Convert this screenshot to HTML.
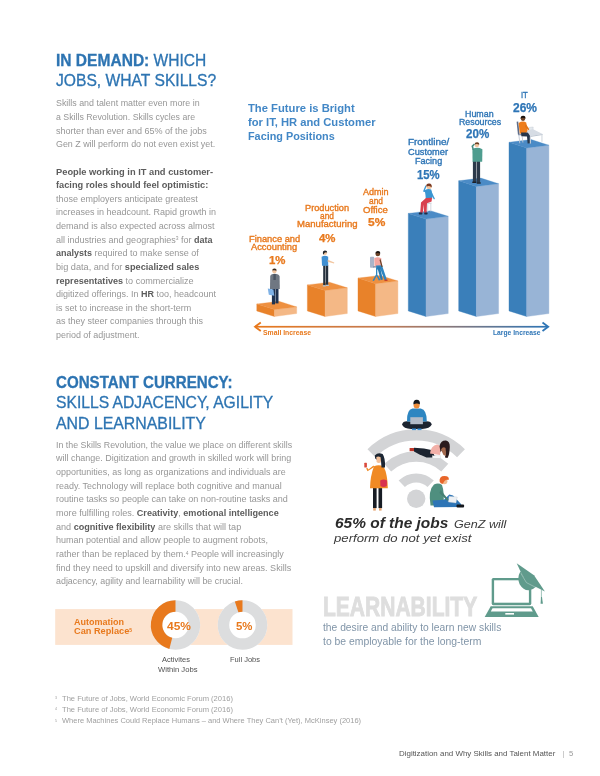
<!DOCTYPE html>
<html><head><meta charset="utf-8"><title>page</title>
<style>
html,body{margin:0;padding:0;background:#fff;}
body{width:600px;height:776px;position:relative;overflow:hidden;font-family:"Liberation Sans",sans-serif;}
.a{position:absolute;white-space:nowrap;transform-origin:0 0;line-height:1;}
.a b{font-weight:bold;}
.h{color:#2d74b2;-webkit-text-stroke:0.3px #2d74b2;}
.p{color:#969696;}
.p b{color:#5c5c5c;}
sup{font-size:55%;vertical-align:baseline;position:relative;top:-0.45em;}
.ct{font-weight:bold;color:#4287c6;}
.lb{font-weight:normal;-webkit-text-stroke:0.35px;}
.nb{font-weight:bold;-webkit-text-stroke:0.25px;}
.ar{font-weight:bold;}
.or{color:#e8791d;}
.bl{color:#2e75b6;}
.wf1{font-weight:bold;font-style:italic;color:#2b2b2b;}
.wf2{font-style:italic;color:#3a3a3a;}
.au{font-weight:bold;color:#e8791d;}
.dn{font-weight:bold;color:#e8791d;}
.sm{color:#505050;}
.lr{font-weight:bold;color:#dedede;-webkit-text-stroke:0.9px #dedede;}
.ld{color:#8195a8;}
.fn{color:#a0a0a0;}
.fs{color:#a0a0a0;}
.ft{color:#555;}
.ft2{color:#999;}
svg{position:absolute;left:0;top:0;}
#w{position:absolute;left:0;top:0;width:600px;height:776px;will-change:transform;}
</style></head><body>
<div id="w">
<svg width="600" height="776" viewBox="0 0 600 776">
<polygon points="256.8,304.0 274.5,309.6 274.5,316.5 256.8,310.9" fill="#e8822a" stroke="#e8822a" stroke-width="0.4"/>
<polygon points="274.5,309.6 296.7,306.9 296.7,313.5 274.5,316.5" fill="#f4b886" stroke="#f4b886" stroke-width="0.4"/>
<polygon points="256.8,304.0 279.0,301.3 296.7,306.9 274.5,309.6" fill="#ee9040" stroke="#ee9040" stroke-width="0.3"/>
<polygon points="307.4,284.9 325.1,290.5 325.1,316.5 307.4,310.9" fill="#e8822a" stroke="#e8822a" stroke-width="0.4"/>
<polygon points="325.1,290.5 347.3,287.8 347.3,313.5 325.1,316.5" fill="#f4b886" stroke="#f4b886" stroke-width="0.4"/>
<polygon points="307.4,284.9 329.6,282.2 347.3,287.8 325.1,290.5" fill="#ee9040" stroke="#ee9040" stroke-width="0.3"/>
<polygon points="358.0,278.1 375.7,283.7 375.7,316.5 358.0,310.9" fill="#e8822a" stroke="#e8822a" stroke-width="0.4"/>
<polygon points="375.7,283.7 397.9,281.0 397.9,313.5 375.7,316.5" fill="#f4b886" stroke="#f4b886" stroke-width="0.4"/>
<polygon points="358.0,278.1 380.2,275.4 397.9,281.0 375.7,283.7" fill="#ee9040" stroke="#ee9040" stroke-width="0.3"/>
<polygon points="408.3,213.4 426.0,219.0 426.0,316.5 408.3,310.9" fill="#3a7fba" stroke="#3a7fba" stroke-width="0.4"/>
<polygon points="426.0,219.0 448.2,216.3 448.2,313.5 426.0,316.5" fill="#98b4d6" stroke="#98b4d6" stroke-width="0.4"/>
<polygon points="408.3,213.4 430.5,210.7 448.2,216.3 426.0,219.0" fill="#4b8bc6" stroke="#4b8bc6" stroke-width="0.3"/>
<polygon points="458.7,180.8 476.4,186.4 476.4,316.5 458.7,310.9" fill="#3a7fba" stroke="#3a7fba" stroke-width="0.4"/>
<polygon points="476.4,186.4 498.6,183.7 498.6,313.5 476.4,316.5" fill="#98b4d6" stroke="#98b4d6" stroke-width="0.4"/>
<polygon points="458.7,180.8 480.9,178.1 498.6,183.7 476.4,186.4" fill="#4b8bc6" stroke="#4b8bc6" stroke-width="0.3"/>
<polygon points="509.0,142.3 526.7,147.9 526.7,316.5 509.0,310.9" fill="#3a7fba" stroke="#3a7fba" stroke-width="0.4"/>
<polygon points="526.7,147.9 548.9,145.2 548.9,313.5 526.7,316.5" fill="#98b4d6" stroke="#98b4d6" stroke-width="0.4"/>
<polygon points="509.0,142.3 531.2,139.6 548.9,145.2 526.7,147.9" fill="#4b8bc6" stroke="#4b8bc6" stroke-width="0.3"/>
<defs><linearGradient id="ag" x1="0" x2="1" y1="0" y2="0"><stop offset="0" stop-color="#e8791d"/><stop offset="0.45" stop-color="#c07a55"/><stop offset="1" stop-color="#2e75b6"/></linearGradient></defs>
<rect x="255.5" y="325.9" width="292" height="1.7" fill="url(#ag)"/>
<polyline points="260.8,322.5 255,326.75 260.8,331" fill="none" stroke="#e8791d" stroke-width="1.8" stroke-linejoin="miter"/>
<polyline points="542.5,322.5 548.2,326.75 542.5,331" fill="none" stroke="#2e75b6" stroke-width="1.8" stroke-linejoin="miter"/>
<g>
<rect x="271.9" y="288" width="3.1" height="16.4" fill="#1f3350"/>
<rect x="275.4" y="288" width="3.1" height="15.4" fill="#1f3350"/>
<path d="M270.2,276.5 Q270.5,274 274.6,273.8 Q279,274 279.6,276.5 L279.8,289 L270,289 Z" fill="#6f7782"/>
<rect x="273.4" y="274" width="2.4" height="6" fill="#4a5563"/>
<circle cx="274.4" cy="271.3" r="2.1" fill="#f2c6a0"/>
<path d="M272.2,270.6 Q272.3,268.3 274.6,268.5 Q276.8,268.6 276.6,270.8 Q274.5,269.6 272.2,270.6 Z" fill="#3a2a1e"/>
<polygon points="267.8,288.6 273.4,289.6 274.3,295.8 268.8,294.8" fill="#7fb2e6"/>
</g>
<g transform="translate(0,1.2)">
<rect x="323.2" y="264" width="2.3" height="20.3" fill="#26313d"/>
<rect x="325.9" y="264" width="2.3" height="19.8" fill="#26313d"/>
<rect x="322.8" y="284" width="3" height="1.3" fill="#b8c4d0"/>
<rect x="325.9" y="283.5" width="3" height="1.3" fill="#b8c4d0"/>
<path d="M321.6,255.5 Q325,253.6 328.2,255.5 L328.2,264.5 L322,264.5 Z" fill="#3f8fd2"/>
<polygon points="327.8,258.5 334.3,261.2 334,262.3 327.6,260.6" fill="#f2c6a0"/>
<circle cx="325" cy="251.8" r="2" fill="#f2c6a0"/>
<path d="M322.8,251.8 Q322.6,249.2 325,249.3 Q327.4,249.3 327.2,251.5 Q325,250.3 323.4,253.5 Z" fill="#22262c"/>
</g>
<rect x="370" y="256.7" width="4.2" height="11" rx="0.8" fill="#a9b4c9"/>
<rect x="373" y="266" width="7" height="1.6" fill="#8c99b0"/>
<rect x="376" y="267.5" width="1.3" height="7" fill="#2e86c1"/>
<polygon points="372.5,280.5 376.6,273.5 380.5,280 378.8,280.6 376.6,276 374,281" fill="#2e86c1"/>
<path d="M374.3,258.3 Q377.5,256.2 381.3,258.3 L381.6,266 L374.6,266.3 Z" fill="#f3a5a0"/>
<polygon points="376,265.5 382,265.3 386.8,279.5 384.6,280.3 380.5,269.5 376.5,269.5" fill="#2e86c1"/>
<polygon points="377,266.5 380,266.5 382.8,279.5 380.8,280" fill="#2778b0"/>
<polygon points="380.5,259 382.7,266.8 381.6,267.3 379.5,260" fill="#6b4226"/>
<rect x="384.5" y="279.6" width="3" height="1.3" fill="#c0392b"/>
<circle cx="377.8" cy="254" r="2.3" fill="#6b4226"/>
<path d="M375.3,253.6 Q375.4,250.8 378,251 Q380.6,251.2 380.2,253.8 Q378,252.4 375.3,253.6 Z" fill="#1c1410"/>
<rect x="426.6" y="202.6" width="5" height="1.4" fill="#d5d9df"/>
<rect x="427.3" y="203.8" width="0.9" height="8" fill="#d0d5dc"/>
<rect x="430.4" y="203.8" width="0.9" height="7.6" fill="#d0d5dc"/>
<path d="M424.8,190.4 Q427.6,188.2 431.2,189.4 Q432.8,193.6 432.2,198.6 L425.8,199.2 Q425.6,194.6 424.8,190.4 Z" fill="#3a96d2"/>
<polygon points="431.0,190.6 434.9,198.8 434.0,199.6 430.2,193.6" fill="#3a96d2"/>
<polygon points="425.6,192.2 423.0,191.4 425.4,185.4 426.6,185.8 425.0,190.2 426.4,190.6" fill="#3a96d2"/>
<polygon points="426.0,198.0 432.0,197.8 431.6,201.6 427.0,203.2 426.6,212.8 424.0,212.8 423.6,204.4 422.8,212.8 420.2,212.8 421.0,202.4" fill="#d8404e"/>
<rect x="418.8" y="212.6" width="3.6" height="1.8" rx="0.6" fill="#1f2f4a"/>
<rect x="424.2" y="212.6" width="3.4" height="1.8" rx="0.6" fill="#1f2f4a"/>
<circle cx="429.0" cy="186.5" r="2.6" fill="#f2c6a0"/>
<path d="M426.3,186.6 Q426.0,183.2 429.2,183.4 Q432.4,183.6 431.6,187.6 Q430.0,185.0 426.3,186.6 Z" fill="#7a3a22"/>
<rect x="472.9" y="161" width="3.4" height="21" fill="#2c3a4a"/>
<rect x="476.7" y="161" width="3.4" height="21.6" fill="#2c3a4a"/>
<rect x="472.3" y="181.6" width="4" height="1.4" fill="#1a1f26"/>
<rect x="476.7" y="182.3" width="4" height="1.4" fill="#1a1f26"/>
<path d="M472.4,149.2 Q477,146.5 482.4,149.2 L482.2,161.8 L472.6,161.8 Z" fill="#4f9d8f"/>
<polygon points="472.6,150 471.4,146 474,143.6 475,144.6 473.2,146.5 474.2,150" fill="#468b7f"/>
<circle cx="476.9" cy="145" r="2.2" fill="#f2c6a0"/>
<path d="M474.6,144.6 Q474.6,142.2 477.2,142.3 Q479.6,142.5 479.2,144.8 Q477,143.4 474.6,144.6 Z" fill="#6b3f22"/>
<polygon points="516.6,121.8 518.2,121.4 519.6,134.6 518.0,135" fill="#5d6c88"/>
<polygon points="518.2,134.2 524.5,133.6 524.7,135 518.4,135.6" fill="#8d99b0"/>
<polygon points="518.4,135 519.3,135 520.3,143.2 519.4,143.2" fill="#c3cad6"/>
<polygon points="521.5,135 522.4,135 523.4,142.6 522.5,142.6" fill="#c3cad6"/>
<path d="M518.6,123.0 Q522.6,120.4 526.2,122.4 L527.8,132.0 Q523.5,134.6 519.8,133.4 Z" fill="#ee7d1b"/>
<polygon points="521.0,132.6 529.6,132.4 530.8,143.2 527.6,143.4 527.0,136.4 521.4,136.2" fill="#27364a"/>
<polygon points="525.8,124.0 529.6,129.4 528.6,130.6 524.8,126.6" fill="#e0751a"/>
<polygon points="529.2,127.4 533.2,127.0 533.0,130.8 529.0,131.2" fill="#e4e9ee" stroke="#aab3bf" stroke-width="0.3"/>
<polygon points="526.8,131.0 532.6,129.0 542.6,134.0 530.2,136.0" fill="#d6dce4"/>
<polygon points="530.0,136.0 542.6,134.0 542.6,135.0 530.0,137.0" fill="#bcc5d0"/>
<rect x="529.8" y="136.4" width="1.1" height="7.2" fill="#d3d9e0"/>
<rect x="541.4" y="134.6" width="1.1" height="7.2" fill="#d3d9e0"/>
<circle cx="523.0" cy="118.6" r="2.3" fill="#6b4226"/>
<path d="M520.6,118.4 Q520.6,115.7 523.2,115.8 Q525.8,115.9 525.4,118.6 Q523.2,117.1 520.6,118.4 Z" fill="#17100c"/>
<circle cx="416.2" cy="498.8" r="9.2" fill="#d3d4d6"/>
<path d="M401.75,483.84 A20.8,20.8 0 0 1 430.65,483.84" fill="none" stroke="#d3d4d6" stroke-width="9.0"/>
<path d="M387.62,467.61 A42.3,42.3 0 0 1 444.78,467.61" fill="none" stroke="#d3d4d6" stroke-width="10.4"/>
<path d="M371.41,453.22 A63.9,63.9 0 0 1 460.99,453.22" fill="none" stroke="#d3d4d6" stroke-width="11.2"/>
<path d="M402,424.5 Q403,420 410,421.5 L423,421.5 Q431,420 431.8,424.5 Q430,428.5 422,429 L411,429 Q403.5,428.5 402,424.5 Z" fill="#1c2430"/>
<path d="M407,421.5 Q406.5,410 412.5,408.6 L420.8,408.6 Q427,410 426.8,421.5 Z" fill="#2e86c1"/>
<rect x="410.3" y="417.2" width="12.6" height="7" fill="#b4bcc8"/>
<rect x="412" y="428.5" width="4" height="1.6" fill="#3a8fd6"/><rect x="417.5" y="428.5" width="4" height="1.6" fill="#3a8fd6"/>
<circle cx="416.6" cy="405.6" r="3" fill="#ef8d3a"/>
<path d="M413.4,404.6 Q413,399.6 416.8,399.7 Q420.4,399.8 419.9,404.4 Q416.8,402.4 413.4,404.6 Z" fill="#14181e"/>
<rect x="409.6" y="448" width="4.6" height="3.2" fill="#c0392b"/>
<polygon points="414,447.8 424,448.4 432.5,450.2 435,457.6 426.5,457.6 419,454.2 414,451.6" fill="#1c2430"/>
<path d="M430,453.5 Q431,445.5 437,444.6 Q441,445 441,450 L440,455 Z" fill="#f2b0a8"/>
<rect x="432.3" y="455.8" width="8.4" height="2.4" fill="#f4f4f4" stroke="#c9c9c9" stroke-width="0.3"/>
<path d="M439.5,446 Q441,440.3 446,440.6 Q450,441.5 449.8,447 Q449.5,455 447.5,458 L445,457.5 Q446,452 444.5,449 Q442,449.5 440.5,452 Z" fill="#2a1a1c"/>
<path d="M441,449.5 Q443,446 445.5,448 Q446.2,452 445.8,456 L443.5,455 Q442,452 441,449.5 Z" fill="#a4684c"/>
<rect x="373" y="487.5" width="3.6" height="20.6" fill="#171c24"/>
<rect x="378.5" y="487.5" width="3.6" height="20.6" fill="#171c24"/>
<rect x="373.2" y="508" width="2.6" height="2.6" fill="#e6a878"/><rect x="379" y="508" width="2.6" height="2.6" fill="#e6a878"/>
<path d="M374,466.2 Q378.5,464.3 383.5,466.2 Q387.6,474 387.8,488.2 L370,488.2 Q370.2,476 374,466.2 Z" fill="#f08a24"/>
<polygon points="374.2,467 367.5,471.3 366.2,468.6 367.3,467.8 368.4,469.6 373.5,465.5" fill="#f08a24"/>
<rect x="364.3" y="462.8" width="2.6" height="4.8" rx="0.5" fill="#d94a3d"/>
<path d="M380.2,480.4 Q384,478.6 387,480.6 L386.8,486 Q383.5,488 380.4,486 Z" fill="#d8324e"/>
<path d="M374.8,455.5 Q378,451.8 382.6,454 Q385.5,458 385,467.5 L381.5,467.5 L381,461 Q377,460.5 375.2,458.5 Z" fill="#1c2633"/>
<path d="M376.3,457 Q378.5,455.8 380.6,457.3 L381,462.3 Q378.5,464 376.6,462 Z" fill="#f3c09a"/>
<path d="M430.5,505.6 Q428,490 434,484.5 Q438.5,482.3 442,485 Q444.5,492 443.5,505.6 Z" fill="#4f8f7f"/>
<polygon points="432.5,500.5 444,499.8 449.3,494.6 453,495.5 461,504 462,507 434,507.3" fill="#2e75b6"/>
<polygon points="449,496.3 457.3,497 456,503 448.3,502" fill="#eef1f4" stroke="#b9c1ca" stroke-width="0.3"/>
<polygon points="440.5,490 448.5,499.6 447.6,501 439.5,493" fill="#468173"/>
<rect x="456.5" y="504.6" width="7.6" height="2.8" rx="1" fill="#15181d"/>
<circle cx="444.4" cy="481.3" r="3" fill="#f3b98c"/>
<path d="M439.6,481.6 Q439,476 444.4,476 Q449.8,476.2 448.6,480 Q445,478.5 443,483.5 Q441,484.6 439.6,481.6 Z" fill="#e8662a"/>
<rect x="55.2" y="609.1" width="237.3" height="35.8" fill="#fce3cf"/>
<circle cx="175.5" cy="625.0" r="24.7" fill="#fff"/>
<circle cx="175.5" cy="625.0" r="18.95" fill="none" stroke="#dcddde" stroke-width="11.5"/>
<path d="M175.50,606.05 A18.95,18.95 0 0 0 170.79,643.35" fill="none" stroke="#e8791d" stroke-width="11.5"/>
<circle cx="242.5" cy="625.0" r="24.8" fill="#fff"/>
<circle cx="242.5" cy="625.0" r="19.05" fill="none" stroke="#dcddde" stroke-width="11.5"/>
<path d="M242.50,605.95 A19.05,19.05 0 0 0 236.61,606.88" fill="none" stroke="#e8791d" stroke-width="11.5"/>
<rect x="491.7" y="577.9" width="39.6" height="27.3" rx="1.6" fill="#609b8c"/>
<rect x="494.1" y="580.3" width="34.8" height="22.4" fill="#fff"/>
<polygon points="490.7,606.3 532.7,606.3 538.7,617 484.7,617" fill="#609b8c"/>
<polygon points="492.5,608.3 531,608.3 532.8,611.6 490.8,611.6" fill="#fff"/>
<rect x="505.3" y="613" width="8.7" height="1.6" fill="#fff"/>
<path d="M520.3,571.5 Q516.8,578 519.6,584.2 Q523.5,590.6 529,590.2 Q533.8,589.4 536.4,586.6 L527,581.5 Z" fill="#609b8c"/>
<polygon points="516.7,563.3 534,575.3 544.9,591.5 526.7,582.2 521.6,573.8" fill="#609b8c"/>
<polyline points="521.0,573.6 526.4,582.6 537.5,588.3" fill="none" stroke="#cfe3dd" stroke-width="0.45"/>
<line x1="541.4" y1="589.5" x2="541.4" y2="598.5" stroke="#609b8c" stroke-width="0.6"/>
<polygon points="541.0,597 542.0,597 542.9,603.8 540.6,603.8" fill="#609b8c"/>
</svg>
<div class="a h" id="t0" style="left:55.70px;top:53.43px;font-size:15.8px;transform:scaleX(0.9843);"><b>IN DEMAND:</b> WHICH</div>
<div class="a h" id="t1" style="left:55.90px;top:73.33px;font-size:15.8px;transform:scaleX(0.9899);">JOBS, WHAT SKILLS?</div>
<div class="a h" id="t2" style="left:55.50px;top:374.54px;font-size:15.9px;transform:scaleX(0.9511);"><b>CONSTANT CURRENCY:</b></div>
<div class="a h" id="t3" style="left:55.50px;top:395.04px;font-size:15.9px;transform:scaleX(0.9850);">SKILLS ADJACENCY, AGILITY</div>
<div class="a h" id="t4" style="left:55.50px;top:415.54px;font-size:15.9px;transform:scaleX(0.9978);">AND LEARNABILITY</div>
<div class="a p" id="t5" style="left:55.80px;top:98.44px;font-size:9.4px;transform:scaleX(0.9470);">Skills and talent matter even more in</div>
<div class="a p" id="t6" style="left:55.80px;top:112.07px;font-size:9.4px;transform:scaleX(0.9367);">a Skills Revolution. Skills cycles are</div>
<div class="a p" id="t7" style="left:55.80px;top:125.69px;font-size:9.4px;transform:scaleX(0.9644);">shorter than ever and 65% of the jobs</div>
<div class="a p" id="t8" style="left:55.80px;top:139.32px;font-size:9.4px;transform:scaleX(0.9489);">Gen Z will perform do not even exist yet.</div>
<div class="a p" id="t9" style="left:55.80px;top:166.57px;font-size:9.4px;transform:scaleX(0.9920);"><b>People working in IT and customer-</b></div>
<div class="a p" id="t10" style="left:55.80px;top:180.19px;font-size:9.4px;transform:scaleX(0.9844);"><b>facing roles should feel optimistic:</b></div>
<div class="a p" id="t11" style="left:55.80px;top:193.82px;font-size:9.4px;transform:scaleX(0.9581);">those employers anticipate greatest</div>
<div class="a p" id="t12" style="left:55.80px;top:207.44px;font-size:9.4px;transform:scaleX(0.9599);">increases in headcount. Rapid growth in</div>
<div class="a p" id="t13" style="left:55.80px;top:221.07px;font-size:9.4px;transform:scaleX(0.9662);">demand is also expected across almost</div>
<div class="a p" id="t14" style="left:55.80px;top:234.69px;font-size:9.4px;transform:scaleX(0.9609);">all industries and geographies<sup>3</sup> for <b>data</b></div>
<div class="a p" id="t15" style="left:55.80px;top:248.32px;font-size:9.4px;transform:scaleX(0.9607);"><b>analysts</b> required to make sense of</div>
<div class="a p" id="t16" style="left:55.80px;top:261.94px;font-size:9.4px;transform:scaleX(0.9784);">big data, and for <b>specialized sales</b></div>
<div class="a p" id="t17" style="left:55.80px;top:275.57px;font-size:9.4px;transform:scaleX(0.9673);"><b>representatives</b> to commercialize</div>
<div class="a p" id="t18" style="left:55.80px;top:289.19px;font-size:9.4px;transform:scaleX(0.9609);">digitized offerings. In <b>HR</b> too, headcount</div>
<div class="a p" id="t19" style="left:55.80px;top:302.82px;font-size:9.4px;transform:scaleX(0.9575);">is set to increase in the short-term</div>
<div class="a p" id="t20" style="left:55.80px;top:316.44px;font-size:9.4px;transform:scaleX(0.9588);">as they steer companies through this</div>
<div class="a p" id="t21" style="left:55.80px;top:330.07px;font-size:9.4px;transform:scaleX(0.9547);">period of adjustment.</div>
<div class="a p" id="t22" style="left:55.60px;top:439.64px;font-size:9.4px;transform:scaleX(0.9445);">In the Skills Revolution, the value we place on different skills</div>
<div class="a p" id="t23" style="left:55.60px;top:453.30px;font-size:9.4px;transform:scaleX(0.9543);">will change. Digitization and growth in skilled work will bring</div>
<div class="a p" id="t24" style="left:55.60px;top:466.96px;font-size:9.4px;transform:scaleX(0.9544);">opportunities, as long as organizations and individuals are</div>
<div class="a p" id="t25" style="left:55.60px;top:480.62px;font-size:9.4px;transform:scaleX(0.9553);">ready. Technology will replace both cognitive and manual</div>
<div class="a p" id="t26" style="left:55.60px;top:494.28px;font-size:9.4px;transform:scaleX(0.9652);">routine tasks so people can take on non-routine tasks and</div>
<div class="a p" id="t27" style="left:55.60px;top:507.94px;font-size:9.4px;transform:scaleX(0.9691);">more fulfilling roles. <b>Creativity</b>, <b>emotional intelligence</b></div>
<div class="a p" id="t28" style="left:55.60px;top:521.60px;font-size:9.4px;transform:scaleX(0.9684);">and <b>cognitive flexibility</b> are skills that will tap</div>
<div class="a p" id="t29" style="left:55.60px;top:535.26px;font-size:9.4px;transform:scaleX(0.9611);">human potential and allow people to augment robots,</div>
<div class="a p" id="t30" style="left:55.60px;top:548.92px;font-size:9.4px;transform:scaleX(0.9571);">rather than be replaced by them.<sup>4</sup> People will increasingly</div>
<div class="a p" id="t31" style="left:55.60px;top:562.58px;font-size:9.4px;transform:scaleX(0.9644);">find they need to upskill and diversify into new areas. Skills</div>
<div class="a p" id="t32" style="left:55.60px;top:576.24px;font-size:9.4px;transform:scaleX(0.9472);">adjacency, agility and learnability will be crucial.</div>
<div class="a ct" id="t33" style="left:248.00px;top:102.86px;font-size:10.8px;transform:scaleX(1.0402);">The Future is Bright</div>
<div class="a ct" id="t34" style="left:248.00px;top:116.96px;font-size:10.8px;transform:scaleX(1.0367);">for IT, HR and Customer</div>
<div class="a ct" id="t35" style="left:248.00px;top:130.96px;font-size:10.8px;transform:scaleX(1.0036);">Facing Positions</div>
<div class="a lb or" id="t36" style="left:248.80px;top:234.95px;font-size:8.8px;transform:scaleX(1.0574);">Finance and</div>
<div class="a lb or" id="t37" style="left:251.20px;top:243.15px;font-size:8.8px;transform:scaleX(1.0590);">Accounting</div>
<div class="a nb or" id="t38" style="left:268.80px;top:255.57px;font-size:10.2px;transform:scaleX(1.1198);">1%</div>
<div class="a lb or" id="t39" style="left:305.30px;top:203.95px;font-size:8.8px;transform:scaleX(1.0461);">Production</div>
<div class="a lb or" id="t40" style="left:320.00px;top:212.25px;font-size:8.8px;transform:scaleX(0.9464);">and</div>
<div class="a lb or" id="t41" style="left:296.80px;top:220.15px;font-size:8.8px;transform:scaleX(1.0852);">Manufacturing</div>
<div class="a nb or" id="t42" style="left:318.70px;top:233.67px;font-size:10.2px;transform:scaleX(1.1198);">4%</div>
<div class="a lb or" id="t43" style="left:363.20px;top:187.95px;font-size:8.8px;transform:scaleX(1.0266);">Admin</div>
<div class="a lb or" id="t44" style="left:369.30px;top:196.85px;font-size:8.8px;transform:scaleX(0.9464);">and</div>
<div class="a lb or" id="t45" style="left:363.20px;top:205.85px;font-size:8.8px;transform:scaleX(1.0864);">Office</div>
<div class="a nb or" id="t46" style="left:368.00px;top:218.27px;font-size:10.2px;transform:scaleX(1.1741);">5%</div>
<div class="a lb bl" id="t47" style="left:407.50px;top:138.30px;font-size:9.1px;transform:scaleX(1.0891);">Frontline/</div>
<div class="a lb bl" id="t48" style="left:408.00px;top:148.00px;font-size:9.1px;transform:scaleX(1.0147);">Customer</div>
<div class="a lb bl" id="t49" style="left:414.70px;top:156.90px;font-size:9.1px;transform:scaleX(0.9965);">Facing</div>
<div class="a nb bl" id="t50" style="left:417.30px;top:168.64px;font-size:12px;transform:scaleX(0.9446);">15%</div>
<div class="a lb bl" id="t51" style="left:465.30px;top:109.50px;font-size:9.1px;transform:scaleX(0.9752);">Human</div>
<div class="a lb bl" id="t52" style="left:458.70px;top:118.10px;font-size:9.1px;transform:scaleX(0.9685);">Resources</div>
<div class="a nb bl" id="t53" style="left:466.10px;top:128.14px;font-size:12px;transform:scaleX(0.9654);">20%</div>
<div class="a lb bl" id="t54" style="left:520.80px;top:91.20px;font-size:9.1px;transform:scaleX(0.8402);">IT</div>
<div class="a nb bl" id="t55" style="left:513.30px;top:102.04px;font-size:12px;transform:scaleX(0.9987);">26%</div>
<div class="a ar or" id="t56" style="left:263.30px;top:330.18px;font-size:6.4px;transform:scaleX(1.0723);">Small Increase</div>
<div class="a ar bl" id="t57" style="left:493.00px;top:330.18px;font-size:6.4px;transform:scaleX(1.0526);">Large Increase</div>
<div class="a wf1" id="t58" style="left:335.00px;top:515.54px;font-size:14.6px;transform:scaleX(1.0584);">65% of the jobs</div>
<div class="a wf2" id="t59" style="left:454.30px;top:518.08px;font-size:11.6px;transform:scaleX(1.0843);">GenZ will</div>
<div class="a wf2" id="t60" style="left:334.30px;top:531.78px;font-size:11.6px;transform:scaleX(1.1341);">perform do not yet exist</div>
<div class="a au" id="t61" style="left:74.20px;top:617.74px;font-size:8.7px;transform:scaleX(1.0359);">Automation</div>
<div class="a au" id="t62" style="left:74.20px;top:627.14px;font-size:8.7px;transform:scaleX(1.0600);">Can Replace<sup>5</sup></div>
<div class="a dn" id="t63" style="left:167.20px;top:621.15px;font-size:11.4px;transform:scaleX(1.0521);">45%</div>
<div class="a dn" id="t64" style="left:236.00px;top:621.15px;font-size:11.4px;transform:scaleX(1.0019);">5%</div>
<div class="a sm" id="t65" style="left:162.30px;top:656.37px;font-size:7.6px;transform:scaleX(0.9865);">Activites</div>
<div class="a sm" id="t66" style="left:157.50px;top:665.87px;font-size:7.6px;transform:scaleX(1.0064);">Within Jobs</div>
<div class="a sm" id="t67" style="left:230.00px;top:656.07px;font-size:7.6px;transform:scaleX(0.9871);">Full Jobs</div>
<div class="a lr" id="t68" style="left:322.50px;top:593.14px;font-size:27.3px;transform:scaleX(0.7703);">LEARNABILITY</div>
<div class="a ld" id="t69" style="left:322.50px;top:622.50px;font-size:10.4px;transform:scaleX(0.9894);">the desire and ability to learn new skills</div>
<div class="a ld" id="t70" style="left:322.50px;top:636.90px;font-size:10.4px;transform:scaleX(1.0002);">to be employable for the long-term</div>
<div class="a fn" id="t71" style="left:61.50px;top:696.01px;font-size:6.6px;transform:scaleX(1.1502);">The Future of Jobs, World Economic Forum (2016)</div>
<div class="a fn" id="t72" style="left:61.50px;top:707.31px;font-size:6.6px;transform:scaleX(1.1502);">The Future of Jobs, World Economic Forum (2016)</div>
<div class="a fn" id="t73" style="left:61.50px;top:718.21px;font-size:6.6px;transform:scaleX(1.1382);">Where Machines Could Replace Humans – and Where They Can’t (Yet), McKinsey (2016)</div>
<div class="a fs" id="t74" style="left:55.00px;top:696.11px;font-size:4px;transform:scaleX(0.8951);">3</div>
<div class="a fs" id="t75" style="left:55.00px;top:707.41px;font-size:4px;transform:scaleX(0.8951);">4</div>
<div class="a fs" id="t76" style="left:55.00px;top:718.61px;font-size:4px;transform:scaleX(0.8951);">5</div>
<div class="a ft" id="t77" style="left:399.00px;top:750.17px;font-size:7.6px;transform:scaleX(1.0441);">Digitization and Why Skills and Talent Matter</div>
<div class="a ft2" id="t78" style="left:562.50px;top:750.17px;font-size:7.6px;transform:scaleX(0.7559);">|</div>
<div class="a ft2" id="t79" style="left:568.90px;top:750.17px;font-size:7.6px;transform:scaleX(1.0155);">5</div>
</div>
</body></html>
